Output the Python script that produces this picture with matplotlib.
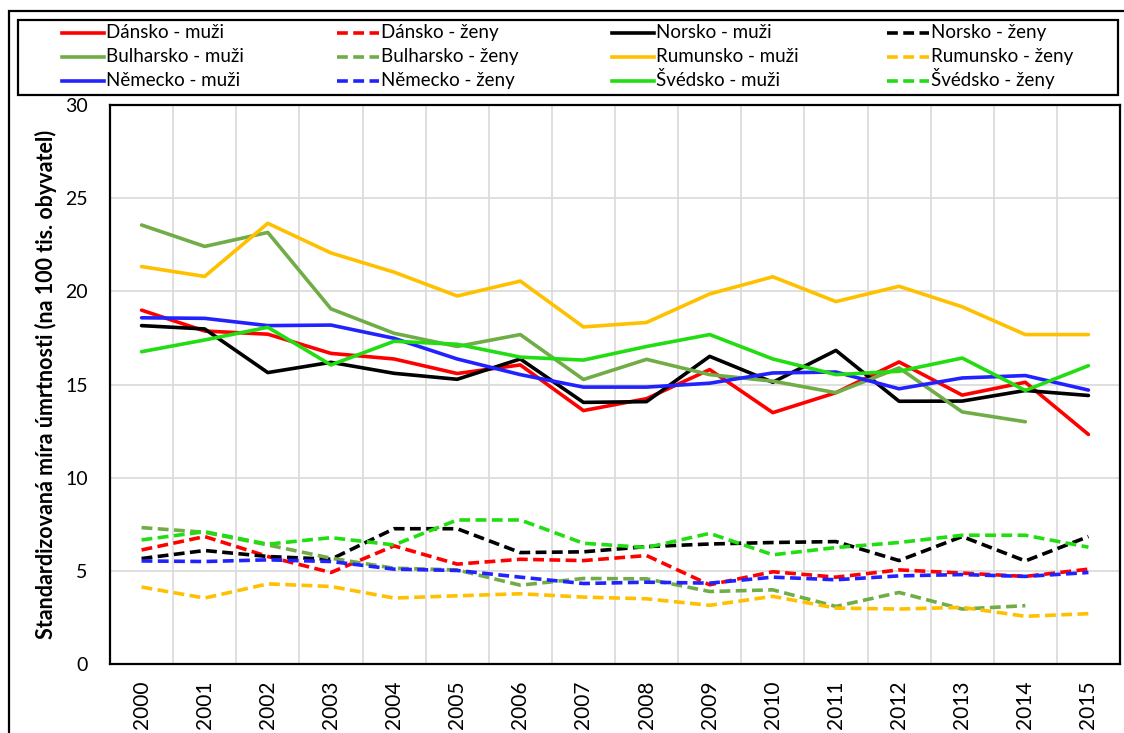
import matplotlib
matplotlib.use("Agg")
import matplotlib.pyplot as plt
from matplotlib.patches import Rectangle
from matplotlib.lines import Line2D
import numpy as np

plt.rcParams['font.family'] = ['Lato', 'DejaVu Sans']

years = [str(y) for y in range(2000, 2016)]

dk_m = [18.99, 17.87, 17.70, 16.67, 16.37, 15.59, 16.05, 13.60, 14.24, 15.80, 13.49, 14.56, 16.21, 14.43, 15.12, 12.32]
dk_f = [6.12, 6.84, 5.77, 4.91, 6.34, 5.36, 5.62, 5.55, 5.82, 4.25, 4.95, 4.66, 5.05, 4.88, 4.70, 5.09]
no_m = [18.16, 17.98, 15.64, 16.19, 15.60, 15.28, 16.37, 14.04, 14.08, 16.51, 15.12, 16.83, 14.10, 14.11, 14.68, 14.41]
no_f = [5.66, 6.09, 5.77, 5.62, 7.26, 7.26, 5.98, 6.02, 6.30, 6.44, 6.52, 6.57, 5.55, 6.84, 5.53, 6.84]
bg_m = [23.56, 22.41, 23.16, 19.06, 17.75, 17.04, 17.68, 15.27, 16.35, 15.53, 15.18, 14.56, 15.89, 13.53, 13.00, None]
bg_f = [7.32, 7.07, 6.39, 5.68, 5.14, 5.05, 4.23, 4.59, 4.57, 3.89, 3.98, 3.09, 3.84, 2.95, 3.13, None]
ro_m = [21.33, 20.80, 23.65, 22.06, 21.03, 19.75, 20.55, 18.09, 18.33, 19.86, 20.78, 19.45, 20.27, 19.17, 17.68, 17.68]
ro_f = [4.13, 3.54, 4.30, 4.16, 3.54, 3.66, 3.77, 3.59, 3.50, 3.15, 3.63, 3.00, 2.95, 3.04, 2.56, 2.70]
de_m = [18.58, 18.55, 18.16, 18.19, 17.48, 16.37, 15.53, 14.86, 14.86, 15.07, 15.62, 15.67, 14.77, 15.35, 15.48, 14.70]
de_f = [5.53, 5.50, 5.59, 5.50, 5.09, 5.02, 4.66, 4.32, 4.39, 4.34, 4.66, 4.52, 4.73, 4.80, 4.70, 4.91]
se_m = [16.76, 17.39, 18.07, 16.05, 17.32, 17.16, 16.47, 16.31, 17.04, 17.68, 16.37, 15.53, 15.71, 16.42, 14.68, 16.01]
se_f = [6.66, 7.10, 6.43, 6.78, 6.39, 7.73, 7.73, 6.48, 6.25, 7.01, 5.86, 6.25, 6.52, 6.91, 6.91, 6.27]

series = [
    ("Dánsko - muži", dk_m, "#FF0000", "-"),
    ("Dánsko - ženy", dk_f, "#FF0000", "--"),
    ("Norsko - muži", no_m, "#000000", "-"),
    ("Norsko - ženy", no_f, "#000000", "--"),
    ("Bulharsko - muži", bg_m, "#70AD47", "-"),
    ("Bulharsko - ženy", bg_f, "#70AD47", "--"),
    ("Rumunsko - muži", ro_m, "#FFC000", "-"),
    ("Rumunsko - ženy", ro_f, "#FFC000", "--"),
    ("Německo - muži", de_m, "#2222FF", "-"),
    ("Německo - ženy", de_f, "#2222FF", "--"),
    ("Švédsko - muži", se_m, "#22DD11", "-"),
    ("Švédsko - ženy", se_f, "#22DD11", "--"),
]

LW = 2.6
DASH = (3.0, 1.5)

W, H = 1124, 733
fig = plt.figure(figsize=(W / 100, H / 100), dpi=100)
ax = fig.add_axes([110 / W, (H - 664) / H, (1120 - 110) / W, (664 - 105) / H])

x = np.arange(len(years))
for label, vals, color, ls in series:
    v = np.array([np.nan if a is None else a for a in vals], dtype=float)
    ln, = ax.plot(x, v, color=color, lw=LW, solid_capstyle='round')
    if ls == "--":
        ln.set_dashes(DASH)
        ln.set_dash_capstyle('butt')

ax.set_xlim(-0.5, len(years) - 0.5)
ax.set_ylim(0, 30)
ax.set_yticks([0, 5, 10, 15, 20, 25, 30])
ax.set_xticks(x)
ax.set_xticklabels(years, rotation=90, fontsize=15)
ax.set_xticks(np.arange(-0.5, len(years), 1.0), minor=True)
ax.tick_params(axis='x', which='both', length=0, pad=12)
ax.tick_params(axis='y', length=0, pad=16, labelsize=14)
ax.grid(True, axis='y', color='#D9D9D9', lw=1.2)
ax.grid(True, axis='x', which='minor', color='#D9D9D9', lw=1.2)
ax.grid(False, axis='x', which='major')
ax.set_axisbelow(True)
for s in ax.spines.values():
    s.set_color('black')
    s.set_linewidth(1.6)

ax.set_ylabel("Standardizovaná míra úmrtnosti (na 100 tis. obyvatel)",
              fontsize=15.5, fontweight='bold')
ax.yaxis.set_label_coords((57 - 110) / (1120 - 110), 0.5)

# Legend box
fig.patches.append(Rectangle((18 / W, (H - 95) / H), (1118 - 18) / W, (95 - 20) / H,
                             transform=fig.transFigure, fill=False, ec='black', lw=1.6))
# Outer border
fig.patches.append(Rectangle((9 / W, -0.05), 1.2, (H - 11) / H + 0.05,
                             transform=fig.transFigure, fill=False, ec='black', lw=1.6))

# Legend entries laid out row-wise in 4 columns, as in the reference
text_x = [106, 381, 656, 931]
row_base = [38, 62, 86]
for idx, (label, vals, color, ls) in enumerate(series):
    row, col = divmod(idx, 4)
    tx = text_x[col]
    yb = row_base[row]
    yl = yb - 5.5
    hl = Line2D([(tx - 44) / W, (tx - 2) / W], [(H - yl) / H, (H - yl) / H],
                transform=fig.transFigure, color=color, lw=LW)
    if ls == "--":
        hl.set_dashes(DASH)
        hl.set_dash_capstyle('butt')
    fig.add_artist(hl)
    fig.text(tx / W, (H - yb) / H, label, fontsize=13.5, va='baseline', ha='left')

fig.savefig("out.png", dpi=100)
